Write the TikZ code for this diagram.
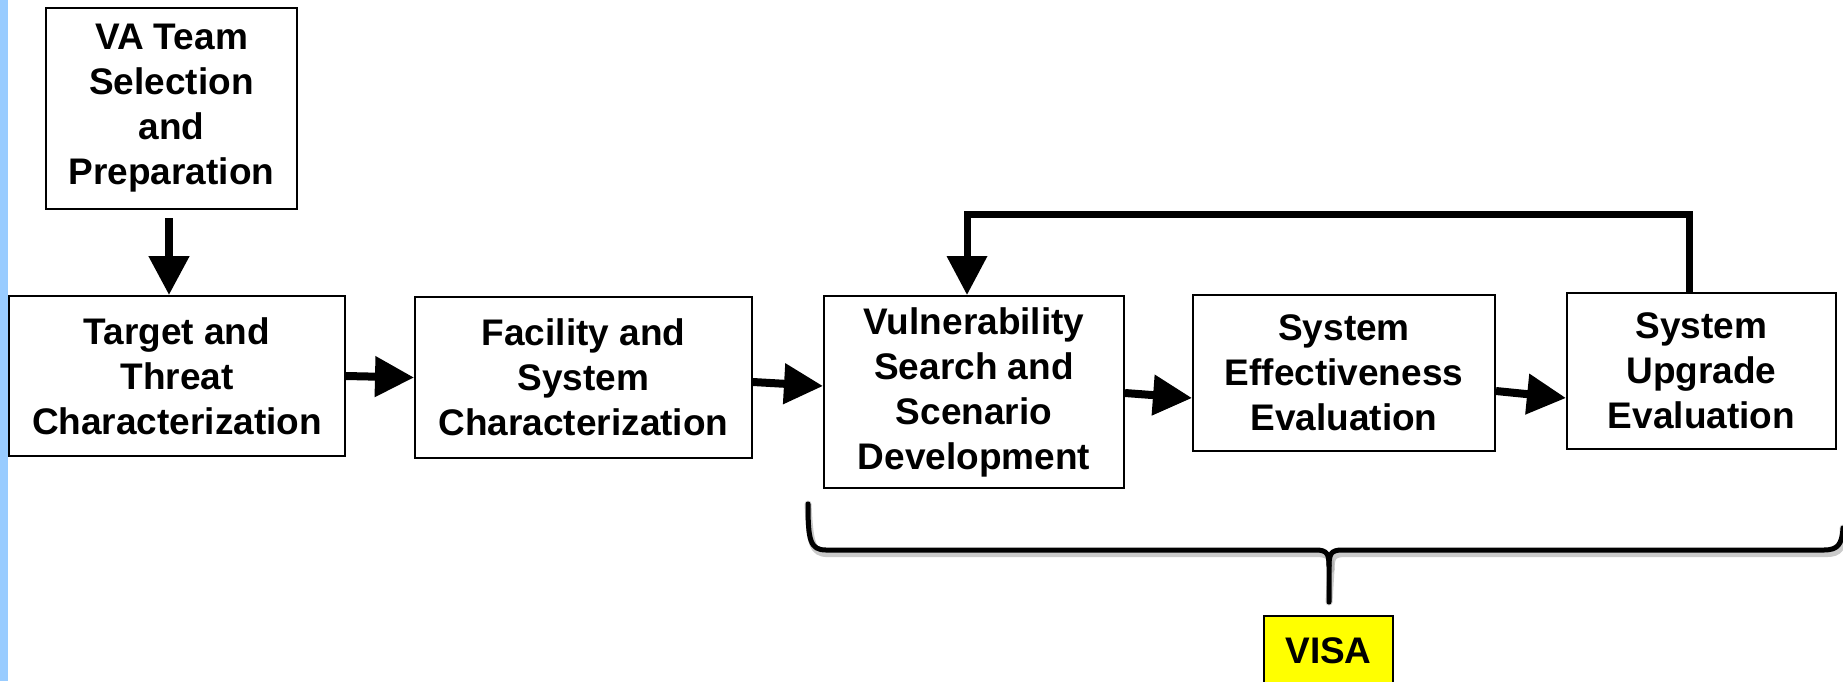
\documentclass[tikz,border=0pt]{standalone}
\usepackage{fontspec}
\setmainfont{Liberation Sans}
\usetikzlibrary{arrows.meta,calc}
\definecolor{barblue}{RGB}{153,204,255}
\definecolor{visayellow}{RGB}{255,255,0}
\begin{document}
\begin{tikzpicture}[x=1pt,y=-1pt,
  box/.style={draw,line width=2pt,align=center,inner sep=0pt,
    font=\fontsize{37}{45}\selectfont\bfseries},
  flow/.style={line width=8pt,-{Triangle[length=39pt,width=39pt]}},
  loopback/.style={line width=7pt,line join=miter,-{Triangle[length=39pt,width=39pt]}},
  bracepath/.style={line width=5pt,line cap=round,line join=round},
  braceshadow/.style={line width=7pt,line cap=round,line join=round,draw=black!35,opacity=0.6}]
\useasboundingbox (0,0) rectangle (1843,681);

% side bar
\fill[barblue] (0,0) rectangle (8,681);

% process boxes
\node[box,minimum width=251pt,minimum height=201pt] (va)  at (171.5,108.5) {VA Team\\Selection\\and\\Preparation};
\node[box,minimum width=336pt,minimum height=160pt] (tgt) at (177,376)   {Target and\\Threat\\Characterization};
\node[box,minimum width=337pt,minimum height=161pt] (fac) at (583.5,377.5) {Facility and\\System\\Characterization};
\node[box,minimum width=300pt,minimum height=192pt] (vul) at (974,392)   {Vulnerability\\Search and\\Scenario\\Development};
\node[box,minimum width=302pt,minimum height=156pt] (sef) at (1344,373)  {System\\Effectiveness\\Evaluation};
\node[box,minimum width=269pt,minimum height=156pt] (upg) at (1701.5,371) {System\\Upgrade\\Evaluation};
\node[box,fill=visayellow,minimum width=129pt,minimum height=70pt] (visa) at (1328.5,651) {VISA};

% flow arrows
\draw[flow] ([xshift=-2.5pt,yshift=-8pt]va.south) -- ([xshift=-8pt]tgt.north);
\draw[flow] (tgt.east) -- (fac.west);
\draw[flow] ([yshift=-4.5pt]fac.east) -- ([yshift=6pt]vul.west);
\draw[flow] ([yshift=-1pt]vul.east) -- ([yshift=-25pt]sef.west);
\draw[flow] ([yshift=-18pt]sef.east) -- ([yshift=-27pt]upg.west);

% feedback loop from upgrade evaluation back to vulnerability search
\coordinate (fbL) at (967,214);
\draw[loopback] ([xshift=-12.5pt]upg.north) |- (fbL) -- ([xshift=-7pt]vul.north);

% brace grouping the VISA steps
\coordinate (brL) at (808,504);
\coordinate (brTip) at (1329,602);
\coordinate (brR) at (1843,528);
\foreach \s/\o in {braceshadow/2, bracepath/0} {
  \draw[\s,shift={(\o,\o*1.8)}]
    (brL) .. controls (808,540) and (810,550) .. (826,550)
    -- (1316,550) .. controls (1327,550) and (1329,554) .. (1329,566)
    -- (brTip);
  \draw[\s,shift={(\o,\o*1.8)}]
    (1329,566) .. controls (1329,554) and (1331,550) .. (1342,550)
    -- (1824,550) .. controls (1838,550) and (1842,544) .. (brR);
}
\end{tikzpicture}
\end{document}
